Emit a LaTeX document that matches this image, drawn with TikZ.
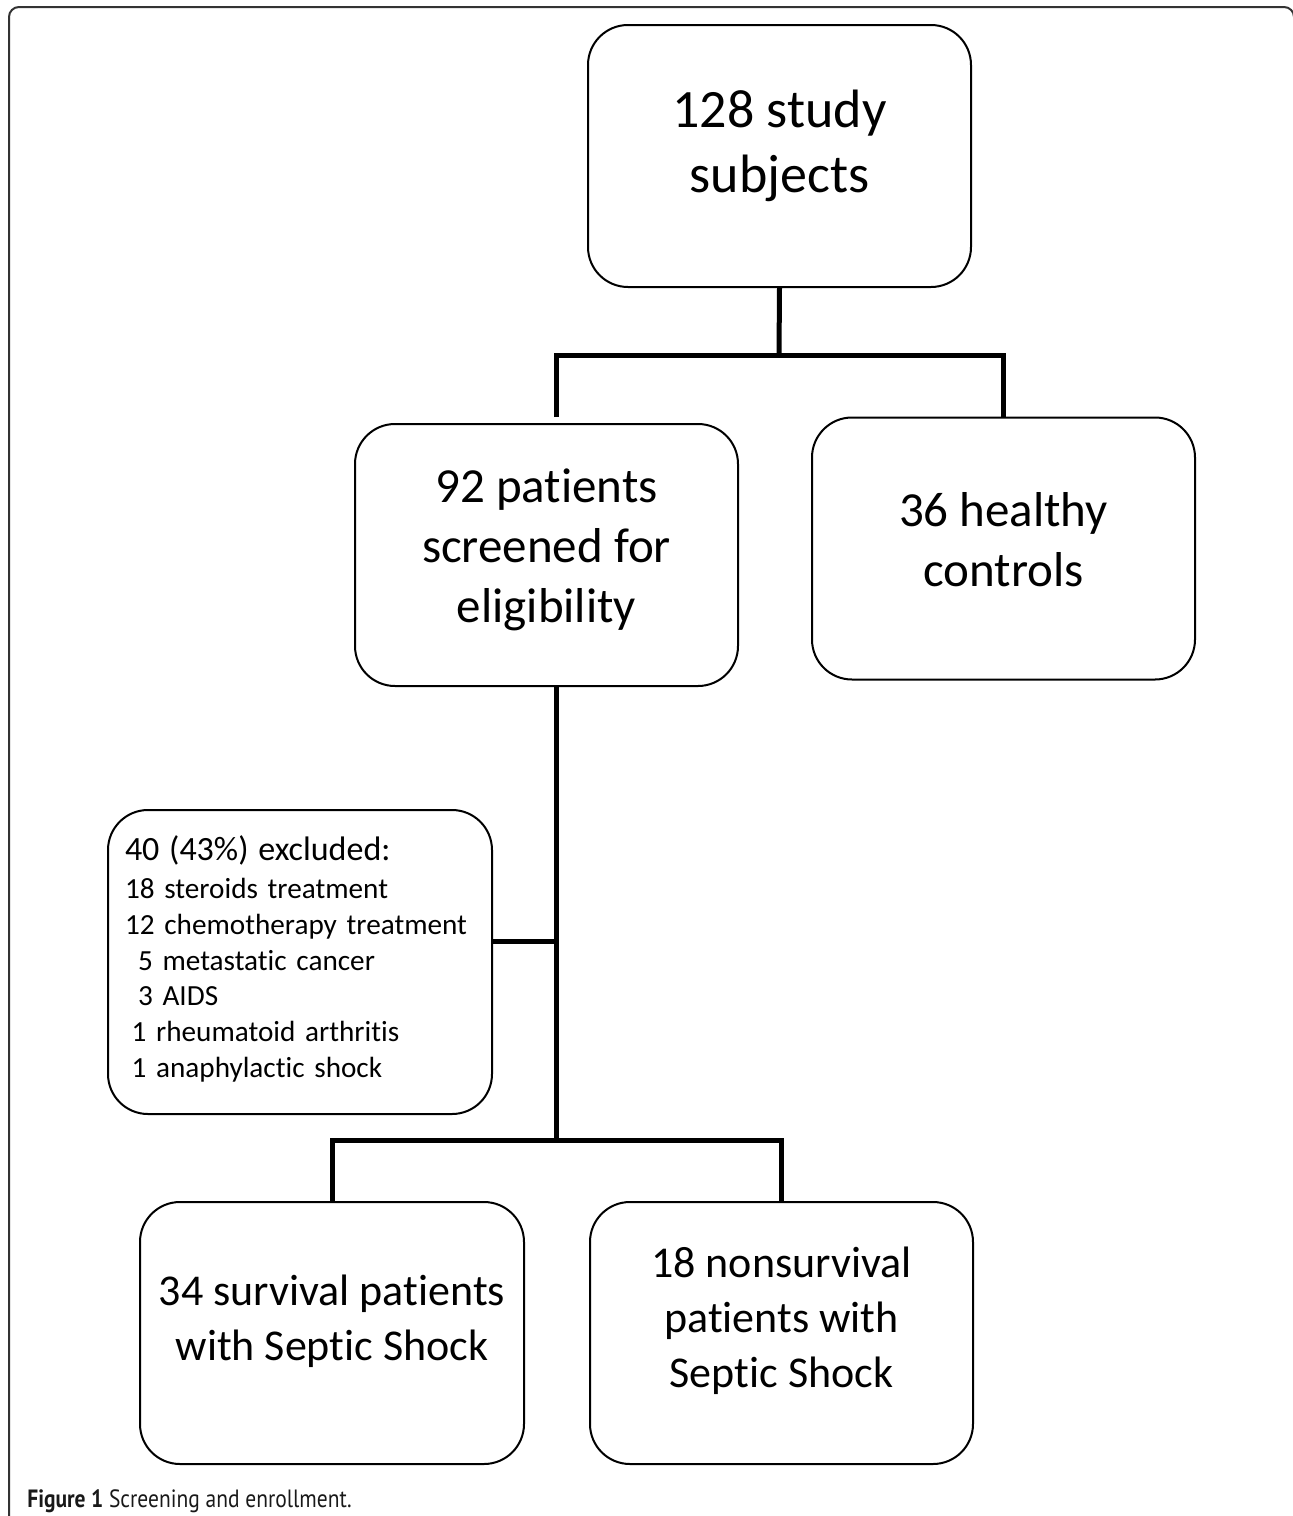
\documentclass[tikz,border=0pt]{standalone}
\usepackage{fontspec}
\setmainfont{Carlito}[Ligatures={TeX,NoCommon}]
\newfontfamily\capfont{PT Sans}[FakeStretch=0.86]
\usetikzlibrary{positioning}

\begin{document}
\begin{tikzpicture}[x=0.5pt,y=-0.5pt]
\tikzstyle{box}=[rectangle, rounded corners=20pt, draw=black, line width=1pt, minimum width=191.5pt, minimum height=131pt, inner sep=0pt]
\tikzstyle{txt}=[align=center, inner sep=0pt]
\tikzstyle{connect}=[line width=2.5pt, black]
\tikzstyle{frame}=[line width=1pt, draw=black!80, rounded corners=5pt]
\useasboundingbox (0,0) rectangle (1293,1516);
\draw[frame] (9,1540) -- (9,7) -- (1294,7) -- (1294,1540);

  \node[box, label={[txt, yshift=5pt, font=\fontsize{27}{32.5}\selectfont]center:128 study\\subjects}] (subj) at (779.5,156) {};
  \node[box, label={[txt, yshift=2.5pt, font=\fontsize{24.5}{30}\selectfont]center:92 patients\\screened for\\eligibility}] (pat) at (546.5,555) {};
  \node[box, label={[txt, yshift=4.5pt, font=\fontsize{24.5}{30}\selectfont]center:36 healthy\\controls}] (ctrl) at (1003.5,548.5) {};

  \node[box, minimum width=192pt, minimum height=152pt,
        label={[txt, align=left, text width=175pt, yshift=1.5pt, font=\fontsize{14.6}{17.9}\selectfont]center:{%
     {\fontsize{17}{19}\selectfont 40 (43\%) excluded:}\\[1pt]
     18 steroids treatment\\
     12 chemotherapy treatment\\
     \hspace*{6.5pt}5 metastatic cancer\\
     \hspace*{6.5pt}3 AIDS\\
     \hspace*{3.3pt}1 rheumatoid arthritis\\
     \hspace*{3.3pt}1 anaphylactic shock}}] (excl) at (300,962) {};

  \node[box, minimum width=192pt, label={[txt, yshift=6pt, font=\fontsize{22}{27.5}\selectfont]center:34 survival patients\\with Septic Shock}] (surv) at (332,1333) {};
  \node[box, label={[txt, yshift=6pt, font=\fontsize{22}{27.5}\selectfont]center:18 nonsurvival\\patients with\\Septic Shock}] (nonsurv) [right=32pt of surv] {};

  % junctions
  \coordinate (j1) at (779,355);
  \coordinate (pl) at (556,417);
  \coordinate (j2) at (556,1140);
  \coordinate (j3) at (556,941);

  \draw[connect] (subj.south) -- (j1);
  \draw[connect] (pl) |- (j1) -| (ctrl.north);
  \draw[connect] (pat.south -| j2) -- (j2);
  \draw[connect] (excl.east |- j3) -- (j3);
  \draw[connect] (surv.north) |- (j2) -| (nonsurv.north);

\node[anchor=base west, inner sep=0pt, text=black!90, font=\capfont\fontsize{12.5}{15}\selectfont] (cap) at (27,1507)
  {\textbf{Figure 1} Screening and enrollment.};
\end{tikzpicture}
\end{document}
